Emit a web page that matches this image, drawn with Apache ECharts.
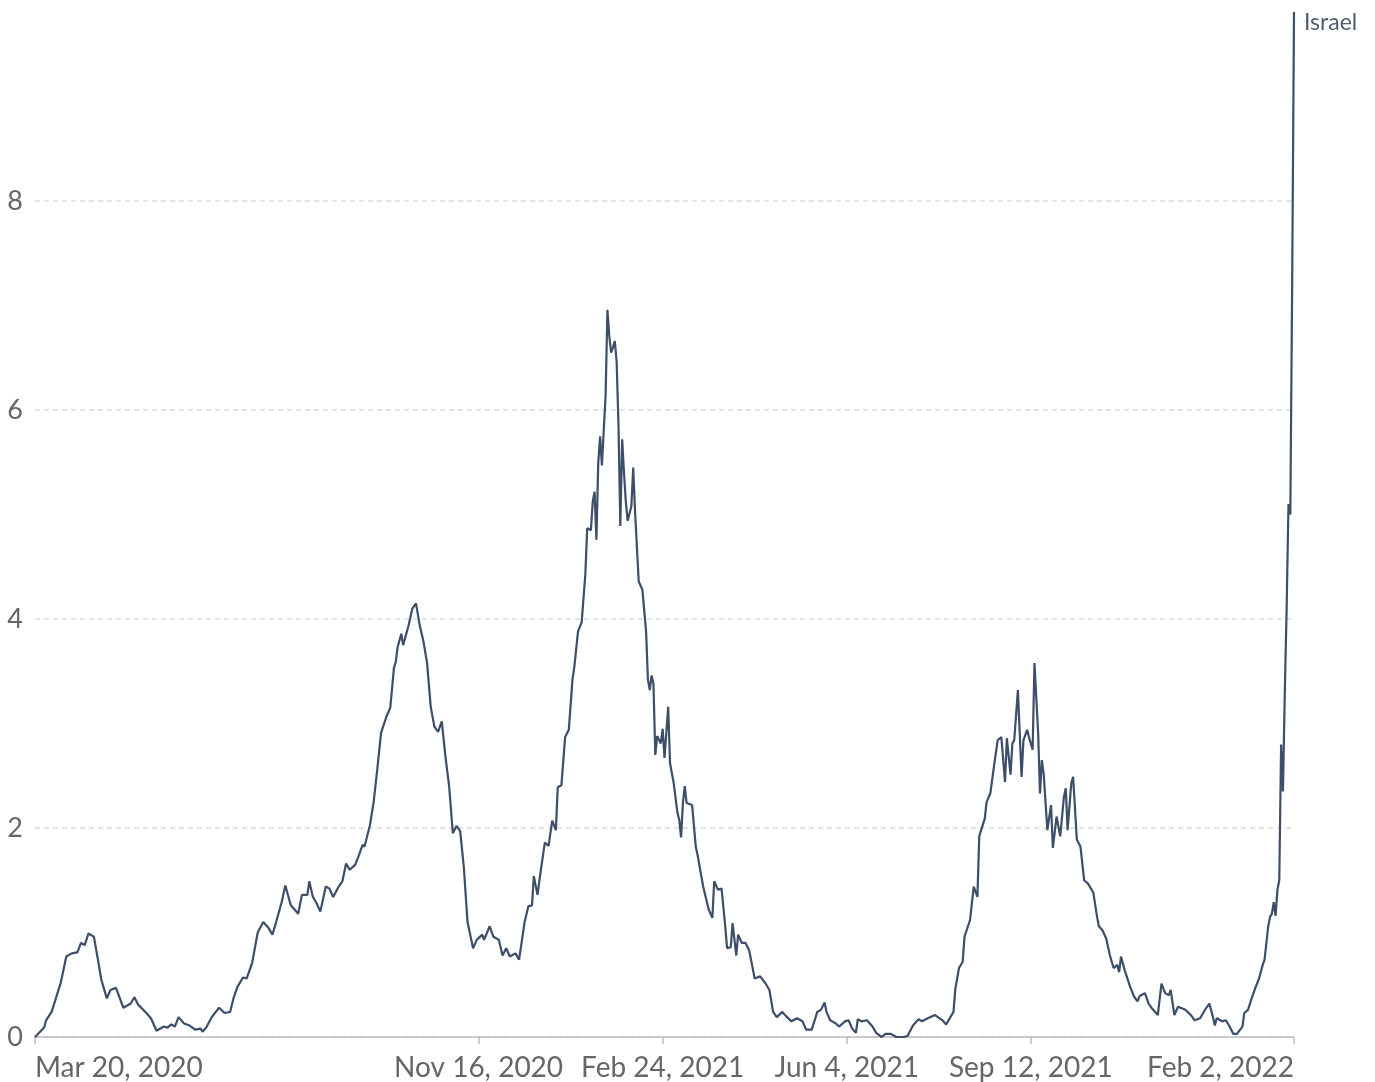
<!DOCTYPE html>
<html>
<head>
<meta charset="utf-8">
<title>Israel</title>
<script src="https://cdn.jsdelivr.net/npm/echarts@6/dist/echarts.min.js"></script>
<style>
  html, body { margin: 0; padding: 0; background: #fff; }
  #chart { width: 1375px; height: 1082px; }
</style>
</head>
<body>
<div id="chart"></div>
<script>
// days counted from Mar 20, 2020
const dayOffsets = [
    0, 5, 6, 9, 11, 14, 17, 20, 23, 25, 27, 29, 32, 34, 36, 39, 41, 44, 48, 52,
    54, 56, 60, 63, 66, 70, 72, 74, 76, 78, 81, 84, 87, 90, 91, 93, 96, 100, 103, 106,
    108, 110, 113, 115, 118, 121, 124, 127, 129, 131, 134, 136, 139, 143, 145, 148, 149, 151, 153, 155,
    158, 160, 162, 165, 167, 169, 171, 174, 176, 178, 179, 182, 184, 186, 188, 191, 193, 195, 196, 197,
    199, 200, 203, 205, 207, 209, 211, 213, 215, 217, 219, 221, 223, 225, 227, 229, 231, 233, 235, 238,
    240, 243, 244, 247, 249, 252, 254, 256, 258, 261, 263, 266, 268, 270, 271, 273, 275, 277, 279, 281,
    283, 284, 286, 288, 290, 292, 293, 295, 297, 299, 300, 302, 303, 304, 305, 306, 307, 308, 309, 310,
    311, 312, 313, 314, 315, 316, 317, 318, 319, 320, 321, 322, 324, 325, 326, 328, 330, 332, 333, 334,
    335, 336, 337, 338, 340, 341, 342, 344, 345, 347, 349, 350, 351, 352, 353, 354, 357, 359, 360, 363,
    366, 368, 369, 371, 373, 375, 376, 378, 379, 381, 382, 384, 386, 388, 391, 394, 397, 399, 401, 403,
    406, 408, 411, 414, 417, 419, 422, 425, 427, 429, 430, 432, 435, 437, 440, 442, 444, 446, 447, 449,
    452, 455, 457, 460, 462, 465, 468, 472, 474, 477, 480, 482, 485, 489, 493, 495, 499, 500, 502, 504,
    505, 508, 510, 511, 512, 513, 514, 516, 517, 519, 521, 523, 525, 527, 528, 530, 531, 532, 534, 536,
    537, 539, 540, 542, 543, 545, 546, 547, 548, 550, 552, 553, 555, 557, 559, 560, 561, 563, 564, 566,
    568, 570, 572, 575, 577, 578, 580, 582, 584, 586, 588, 589, 590, 592, 595, 597, 599, 600, 603, 605,
    607, 610, 612, 614, 616, 617, 619, 621, 625, 628, 630, 633, 636, 638, 640, 641, 642, 645, 647, 649,
    651, 653, 656, 657, 659, 661, 663, 665, 667, 668, 670, 671, 672, 673, 674, 675, 676, 677, 678, 679,
    680, 681, 682, 683, 684
];

const values = [
    0.00, 0.09, 0.16, 0.24, 0.35, 0.52, 0.77, 0.80, 0.81, 0.90, 0.88, 0.99, 0.96, 0.76, 0.55, 0.37, 0.45, 0.47, 0.28, 0.32,
    0.38, 0.31, 0.24, 0.18, 0.06, 0.10, 0.09, 0.12, 0.10, 0.19, 0.13, 0.11, 0.07, 0.08, 0.05, 0.09, 0.19, 0.28, 0.23, 0.24,
    0.38, 0.48, 0.57, 0.56, 0.71, 1.00, 1.10, 1.04, 0.98, 1.10, 1.29, 1.45, 1.26, 1.18, 1.36, 1.36, 1.49, 1.34, 1.28, 1.20,
    1.44, 1.42, 1.34, 1.44, 1.49, 1.66, 1.60, 1.65, 1.74, 1.84, 1.82, 2.03, 2.25, 2.57, 2.91, 3.07, 3.15, 3.53, 3.59, 3.73,
    3.86, 3.75, 3.94, 4.10, 4.15, 3.94, 3.79, 3.58, 3.16, 2.97, 2.92, 3.02, 2.68, 2.40, 1.95, 2.02, 1.97, 1.62, 1.10, 0.85,
    0.93, 0.98, 0.93, 1.06, 0.96, 0.93, 0.78, 0.85, 0.77, 0.80, 0.74, 1.10, 1.25, 1.26, 1.54, 1.36, 1.62, 1.86, 1.83, 2.07,
    1.98, 2.39, 2.41, 2.87, 2.94, 3.42, 3.54, 3.88, 3.97, 4.43, 4.87, 4.85, 5.12, 5.22, 4.76, 5.49, 5.75, 5.47, 5.81, 6.14,
    6.96, 6.71, 6.55, 6.60, 6.66, 6.46, 5.86, 4.89, 5.72, 5.40, 5.12, 4.94, 5.08, 5.45, 5.03, 4.36, 4.28, 3.88, 3.42, 3.32,
    3.46, 3.38, 2.70, 2.88, 2.81, 2.95, 2.67, 3.16, 2.62, 2.43, 2.15, 2.08, 1.91, 2.24, 2.40, 2.24, 2.22, 1.82, 1.74, 1.44,
    1.22, 1.14, 1.49, 1.41, 1.42, 1.06, 0.85, 0.86, 1.09, 0.78, 0.98, 0.90, 0.90, 0.83, 0.56, 0.58, 0.51, 0.45, 0.24, 0.19,
    0.24, 0.20, 0.15, 0.18, 0.15, 0.07, 0.07, 0.24, 0.26, 0.33, 0.24, 0.16, 0.13, 0.10, 0.15, 0.16, 0.08, 0.04, 0.17, 0.15,
    0.16, 0.10, 0.04, 0.00, 0.03, 0.03, 0.00, 0.00, 0.01, 0.11, 0.17, 0.15, 0.18, 0.21, 0.16, 0.12, 0.24, 0.46, 0.66, 0.72,
    0.96, 1.12, 1.44, 1.45, 1.34, 1.92, 1.98, 2.09, 2.25, 2.33, 2.59, 2.84, 2.87, 2.44, 2.86, 2.51, 2.81, 2.84, 3.32, 2.49,
    2.84, 2.94, 2.87, 2.75, 3.58, 2.91, 2.33, 2.65, 2.52, 1.98, 2.22, 1.81, 2.11, 1.92, 2.30, 2.38, 1.98, 2.43, 2.49, 1.89,
    1.82, 1.50, 1.47, 1.38, 1.15, 1.06, 1.02, 0.94, 0.78, 0.66, 0.69, 0.62, 0.77, 0.64, 0.48, 0.39, 0.34, 0.39, 0.42, 0.32,
    0.27, 0.21, 0.51, 0.42, 0.40, 0.45, 0.21, 0.29, 0.26, 0.21, 0.16, 0.18, 0.27, 0.32, 0.19, 0.11, 0.18, 0.15, 0.16, 0.10,
    0.03, 0.03, 0.10, 0.23, 0.26, 0.37, 0.47, 0.56, 0.69, 0.74, 1.06, 1.15, 1.18, 1.29, 1.16, 1.41, 1.50, 2.80, 2.35, 3.30,
    4.10, 5.10, 5.00, 7.20, 9.81
];

const tickDays = [0, 241, 341, 441, 541, 684];
const tickLabels = ['Mar 20, 2020', 'Nov 16, 2020', 'Feb 24, 2021', 'Jun 4, 2021', 'Sep 12, 2021', 'Feb 2, 2022'];
const yTicks = [0, 2, 4, 6, 8];
const seriesName = 'Israel';

const chart = echarts.init(document.getElementById('chart'));

const points = dayOffsets.map((d, i) => [d, values[i]]);

const option = {
    animation: false,
    textStyle: { fontFamily: 'Lato' },
    grid: { left: 35, right: 81, top: 12, bottom: 45 },
    xAxis: {
        type: 'value',
        min: 0,
        max: 684,
        axisLine: { show: true, lineStyle: { color: '#bdbdbd', width: 1.5 } },
        axisTick: {
            show: true,
            customValues: tickDays,
            length: 7,
            lineStyle: { color: '#bdbdbd', width: 1.5 }
        },
        axisLabel: {
            customValues: tickDays,
            formatter: function (val) {
                const idx = tickDays.indexOf(Math.round(val));
                return idx >= 0 ? tickLabels[idx] : '';
            },
            alignMinLabel: 'left',
            alignMaxLabel: 'right',
            color: '#666',
            fontSize: 28,
            fontFamily: 'Lato',
            margin: 17
        },
        splitLine: { show: false }
    },
    yAxis: {
        type: 'value',
        min: 0,
        max: 9.81,
        interval: 2,
        axisLine: { show: false },
        axisTick: { show: false, customValues: yTicks },
        axisLabel: {
            customValues: yTicks,
            color: '#666',
            fontSize: 27,
            fontFamily: 'Lato',
            margin: 12
        },
        splitLine: {
            show: true,
            lineStyle: { color: '#dcdcdc', type: [5, 4], width: 1.5 }
        }
    },
    series: [{
        name: seriesName,
        type: 'line',
        data: points,
        showSymbol: false,
        clip: false,
        lineStyle: { color: '#3c4e68', width: 2.2 },
        itemStyle: { color: '#3c4e68' },
        endLabel: {
            show: true,
            formatter: seriesName,
            color: '#4f5d73',
            fontSize: 23,
            fontFamily: 'Lato',
            offset: [2, 11]
        }
    }]
};

chart.setOption(option);
</script>
</body>
</html>
